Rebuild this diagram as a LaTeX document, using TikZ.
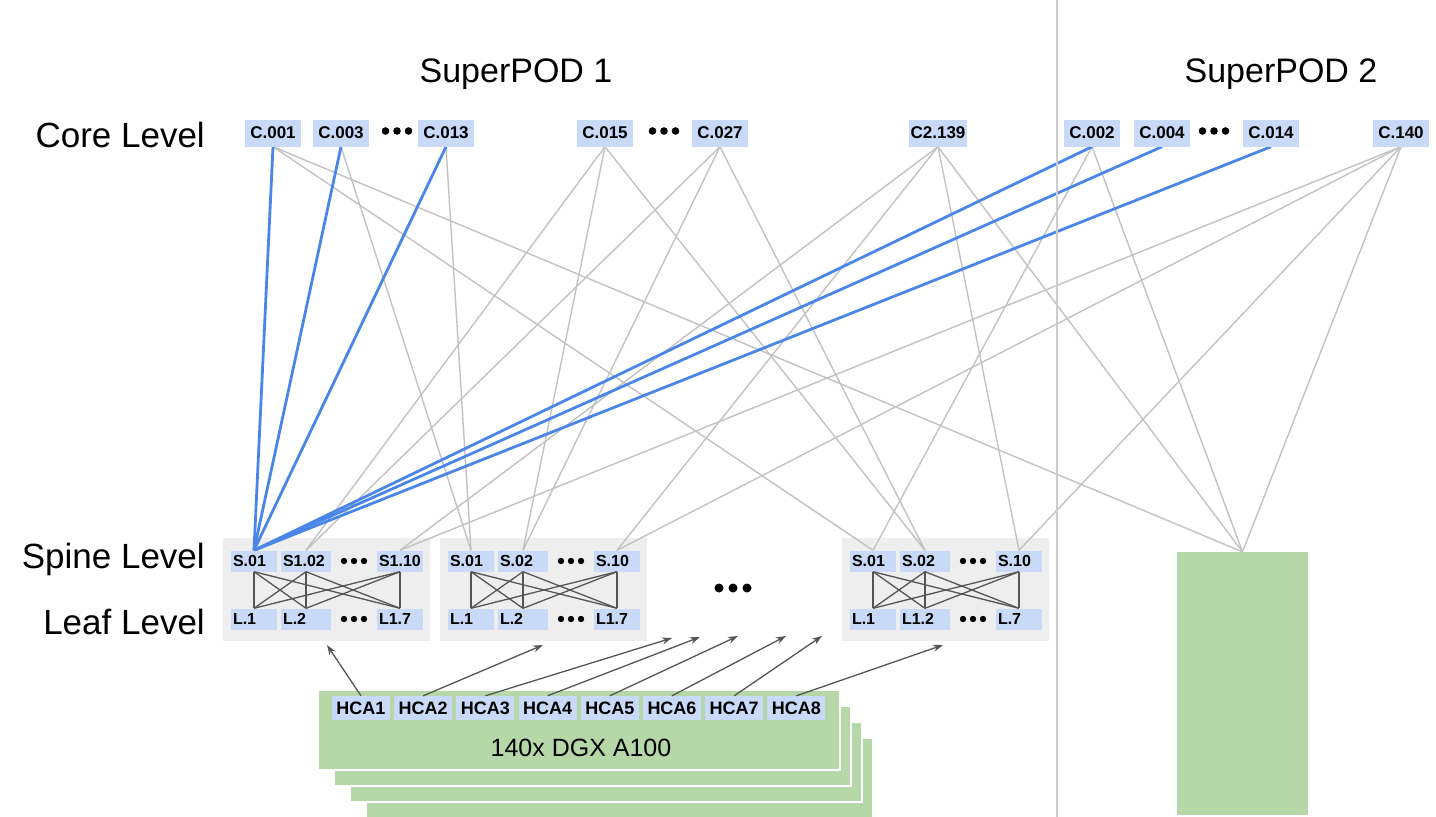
\documentclass[tikz,border=0pt]{standalone}
\usepackage{fontspec}
\setmainfont{Liberation Sans}
\usetikzlibrary{arrows.meta}
\definecolor{lblue}{HTML}{C9DAF8}
\definecolor{lgreen}{HTML}{B6D7A8}
\definecolor{lgray}{HTML}{EEEEEE}
\definecolor{linkblue}{HTML}{4A86E8}
\definecolor{linkgray}{HTML}{C2C2C2}
\definecolor{meshgray}{HTML}{555555}
\definecolor{divider}{HTML}{CCCCCC}
\pgfdeclarelayer{bg}
\pgfdeclarelayer{links}
\pgfsetlayers{bg,links,main}
\tikzset{
  corebox/.style={fill=lblue, minimum width=56pt, minimum height=27pt, inner xsep=2pt, inner ysep=0pt,
    font=\fontsize{17}{17}\selectfont\bfseries},
  swbox/.style={fill=lblue, minimum height=21pt, inner xsep=2pt, inner ysep=0pt, text width=#1, align=left,
    font=\fontsize{16}{16}\selectfont\bfseries},
  hcabox/.style={fill=lblue, minimum width=58pt, minimum height=24pt, inner sep=0pt,
    font=\fontsize{18}{18}\selectfont\bfseries},
  groupbox/.style={fill=lgray, minimum width=207pt, minimum height=103pt, inner sep=0pt},
  levellabel/.style={anchor=base east, font=\fontsize{35}{35}\selectfont, inner sep=0pt},
  podlabel/.style={anchor=base, font=\fontsize{34}{34}\selectfont, inner sep=0pt},
  graylink/.style={draw=linkgray, line width=1.4pt},
  bluelink/.style={draw=linkblue, line width=2.8pt},
  meshlink/.style={draw=meshgray, line width=1.3pt},
  hcalink/.style={draw=meshgray, line width=1.3pt, -{Stealth[length=10pt,width=7pt]}},
  stackcard/.style={fill=lgreen, draw=white, line width=1.5pt},
}
\begin{document}
\begin{tikzpicture}[x=1pt,y=-1pt]
\useasboundingbox (0,0) rectangle (1436,817);

% divider between the two SuperPODs
\draw[divider, line width=1.5pt] (1057,0) -- (1057,817);

% titles and level labels
\node[podlabel] (pod1) at (516,82) {SuperPOD 1};
\node[podlabel] (pod2) at (1281,82) {SuperPOD 2};
\node[levellabel] (lvcore) at (205,147) {Core Level};
\node[levellabel] (lvspine) at (205,568) {Spine Level};
\node[levellabel] (lvleaf) at (205,634) {Leaf Level};

% core switches
\node[corebox] (c001) at (273,133) {C.001};
\node[corebox] (c003) at (341,133) {C.003};
\node[corebox] (c013) at (446,133) {C.013};
\node[corebox] (c015) at (605,133) {C.015};
\node[corebox] (c027) at (720,133) {C.027};
\node[corebox] (c2139) at (938,133) {C2.139};
\node[corebox] (c002) at (1092,133) {C.002};
\node[corebox] (c004) at (1162,133) {C.004};
\node[corebox] (c014) at (1271,133) {C.014};
\node[corebox] (c140) at (1401,133) {C.140};
\foreach \cx in {397,664,1214}
  \foreach \d in {-11.5,0,11.5}
    \fill (\cx+\d,131) circle (3.8pt);

% spine / leaf groups of SuperPOD 1
\foreach \g/\X/\sa/\sb/\sc/\la/\lb/\lc in
  {g1/223/S.01/S1.02/S1.10/L.1/L.2/L1.7,
   g2/440/S.01/S.02/S.10/L.1/L.2/L1.7,
   g3/842/S.01/S.02/S.10/L.1/L1.2/L.7}{
  \begin{pgfonlayer}{bg}
    \node[groupbox] (\g box) at (\X+103.5,589.5) {};
  \end{pgfonlayer}
  \node[swbox=42pt] (\g s1) at (\X+31,561) {\sa};
  \node[swbox=46pt] (\g s2) at (\X+83,561) {\sb};
  \node[swbox=42pt] (\g s3) at (\X+177,561) {\sc};
  \node[swbox=42pt] (\g l1) at (\X+31,619) {\la};
  \node[swbox=46pt] (\g l2) at (\X+83,619) {\lb};
  \node[swbox=42pt] (\g l3) at (\X+177,619) {\lc};
  \foreach \d in {-10,0,10}{
    \fill (\X+131+\d,561) circle (3.2pt);
    \fill (\X+131+\d,619) circle (3.2pt);
  }
  \foreach \i in {1,2,3}
    \foreach \j in {1,2,3}
      \draw[meshlink] (\g s\i.south) -- (\g l\j.north);
}
\foreach \d in {-14,0,14}
  \fill (733+\d,588) circle (4.5pt);

% SuperPOD 2 block
\node[fill=lgreen, minimum width=131pt, minimum height=263pt, inner sep=0pt] (sp2) at (1242.5,683.5) {};

% core-to-spine links
\begin{pgfonlayer}{links}
  \draw[graylink] (c001.south) -- (g3s1.north);
  \draw[graylink] (c001.south) -- (sp2.north);
  \draw[graylink] (c003.south) -- (g2s1.north);
  \draw[graylink] (c013.south) -- (g2s1.north);
  \foreach \c in {c015,c027}
    \foreach \t in {g1s2,g2s2,g3s2}
      \draw[graylink] (\c.south) -- (\t.north);
  \foreach \c in {c2139,c140}{
    \foreach \t in {g1s3,g2s3,g3s3}
      \draw[graylink] (\c.south) -- (\t.north);
    \draw[graylink] (\c.south) -- (sp2.north);
  }
  \draw[graylink] (c002.south) -- (g3s1.north);
  \draw[graylink] (c002.south) -- (sp2.north);
  \foreach \c in {c001,c003,c013,c002,c004,c014}
    \draw[bluelink] (g1s1.north) -- (\c.south);
\end{pgfonlayer}

% stack of DGX systems
\foreach \k in {3,2,1}
  \draw[stackcard] (318+16*\k,690+16*\k) rectangle (840+11*\k,770+16*\k);
\node[fill=lgreen, draw=white, line width=1.5pt, minimum width=522pt, minimum height=80pt, inner sep=0pt] (dgx) at (579,730) {};
\node[font=\fontsize{25}{25}\selectfont, inner sep=0pt] (dgxlabel) at (581,748) {140x DGX A100};
\foreach \i in {1,...,8}
  \node[hcabox] (hca\i) at ({361+62.2*(\i-1)},708) {HCA\i};

% HCA uplinks to leaf switches
\coordinate (t1) at (327,645);
\coordinate (t2) at (543,645);
\coordinate (t3) at (672,638);
\coordinate (t4) at (700,637);
\coordinate (t5) at (738,636);
\coordinate (t6) at (786,636);
\coordinate (t7) at (822,636);
\coordinate (t8) at (943,645);
\foreach \i in {1,...,8}
  \draw[hcalink] (hca\i.north) -- (t\i);
\end{tikzpicture}
\end{document}
